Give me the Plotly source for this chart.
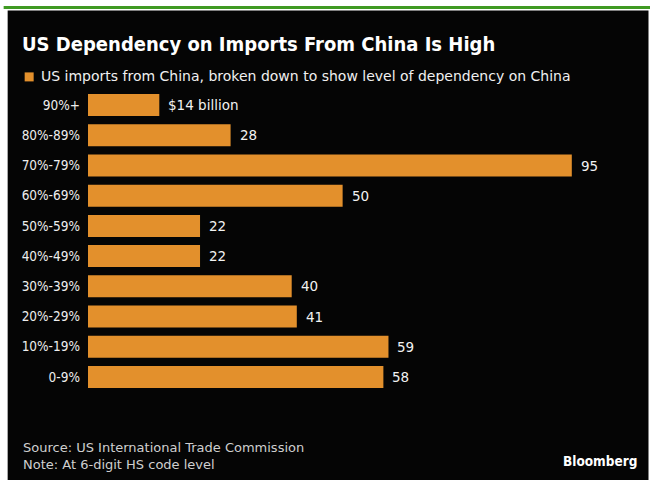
import plotly.graph_objects as go

# Dependency bands, top to bottom, and US imports from China ($ billion)
categories = ["90%+", "80%-89%", "70%-79%", "60%-69%", "50%-59%",
              "40%-49%", "30%-39%", "20%-29%", "10%-19%", "0-9%"]
imports_bn = [14, 28, 95, 50, 22, 22, 40, 41, 59, 58]
value_labels = [f"${imports_bn[0]} billion"] + [str(v) for v in imports_bn[1:]]

title_text = "US Dependency on Imports From China Is High"
legend_text = "US imports from China, broken down to show level of dependency on China"
source_text = "Source: US International Trade Commission"
note_text = "Note: At 6-digit HS code level"
brand_text = "Bloomberg"

ORANGE = "#E3902C"
FONT = "DejaVu Sans, sans-serif"
FONT_COND = "DejaVu Sans Condensed, DejaVu Sans, sans-serif"

W, H = 650, 480
LEFT, TOP, BOTTOM = 88.3, 89.6, 391.6
PW, PH = W - LEFT, BOTTOM - TOP


def px(x):
    """figure pixel x -> paper coordinate"""
    return (x - LEFT) / PW


def py(y):
    """figure pixel y (from top) -> paper coordinate"""
    return (BOTTOM - y) / PH


fig = go.Figure()
fig.add_trace(go.Bar(
    x=imports_bn, y=categories, orientation="h",
    marker=dict(color=ORANGE, line=dict(width=0)),
    hoverinfo="skip", showlegend=False,
))

# value labels just past each bar end
for cat, v, lab in zip(categories, imports_bn, value_labels):
    fig.add_annotation(x=v, y=cat, text=lab, xref="x", yref="y",
                       xanchor="left", yanchor="middle", xshift=7,
                       showarrow=False,
                       font=dict(family=FONT, size=13.5, color="#f2f2f2"))

shapes = [
    # green rule across the top
    dict(type="rect", xref="paper", yref="paper", layer="below",
         x0=px(4), x1=px(650), y0=py(8.5), y1=py(5.5),
         fillcolor="#3f9a22", line=dict(width=0)),
    # black panel
    dict(type="rect", xref="paper", yref="paper", layer="below",
         x0=px(8), x1=px(648.5), y0=py(480), y1=py(10),
         fillcolor="#050505", line=dict(width=0)),
    # legend swatch
    dict(type="rect", xref="paper", yref="paper",
         x0=px(25), x1=px(34), y0=py(81), y1=py(72),
         fillcolor=ORANGE, line=dict(width=0)),
]


def pa(x, y, text, size, color, bold=False, xanchor="left"):
    return dict(x=px(x), y=py(y), xref="paper", yref="paper",
                text=f"<b>{text}</b>" if bold else text,
                xanchor=xanchor, yanchor="middle", showarrow=False,
                font=dict(family=FONT_COND if bold else FONT,
                          size=size, color=color))


annotations = [
    pa(20, 44, title_text, 20, "#ffffff", bold=True),
    pa(39, 76, legend_text, 14, "#f0f0f0"),
    pa(21, 447, source_text, 13, "#cfcfcf"),
    pa(21, 464, note_text, 13, "#cfcfcf"),
    pa(639, 461, brand_text, 13.5, "#ffffff", bold=True, xanchor="right"),
]
for a in annotations:
    fig.add_annotation(**a)

fig.update_layout(
    width=W, height=H,
    margin=dict(l=LEFT, r=0, t=TOP, b=H - BOTTOM, pad=0),
    paper_bgcolor="white", plot_bgcolor="rgba(0,0,0,0)",
    bargap=0.27,
    shapes=shapes,
    xaxis=dict(range=[0, PW / 5.09], visible=False, fixedrange=True),
    yaxis=dict(autorange="reversed", showgrid=False, zeroline=False,
               showline=False, ticks="", ticklabelstandoff=7,
               tickfont=dict(family=FONT_COND, size=13.5, color="#eeeeee"),
               fixedrange=True),
)

fig.write_html("out.html", config={"displayModeBar": False})
